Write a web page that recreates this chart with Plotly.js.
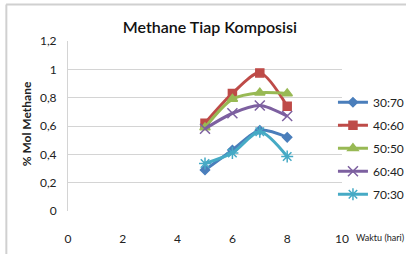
<!DOCTYPE html>
<html><head><meta charset="utf-8">
<script src="https://cdn.plot.ly/plotly-3.0.1.min.js"></script>
<style>html,body{margin:0;padding:0;background:#fff}#c{width:406px;height:254px}</style>
</head><body><div id="c"></div>
<script>
const days = [5, 6, 7, 8];
const seriesNames = ["30:70", "40:60", "50:50", "60:40", "70:30"];
const s3070 = [0.29, 0.43, 0.57, 0.52];
const s4060 = [0.62, 0.83, 0.975, 0.74];
const s5050 = [0.59, 0.79, 0.835, 0.83];
const s6040 = [0.58, 0.69, 0.745, 0.67];
const s7030 = [0.335, 0.41, 0.56, 0.385];
const xTicks = [0, 2, 4, 6, 8, 10];
const yTicks = [0, 0.2, 0.4, 0.6, 0.8, 1.0, 1.2];
const yTickText = ["0", "0,2", "0,4", "0,6", "0,8", "1", "1,2"];

const values = [s3070, s4060, s5050, s6040, s7030];
const colors = ["#4A7EBB", "#BE4B48", "#98B954", "#7D60A0", "#46AAC5"];
const symbols = ["diamond", "square", "triangle-up", "x-thin-open", "asterisk-open"];
const sizes = [7, 8, 9, 10, 10];

const traces = values.map((v, i) => ({
  x: days, y: v, name: seriesNames[i], type: "scatter", mode: "lines+markers",
  line: {color: colors[i], width: 3, shape: "spline", smoothing: 0.8},
  marker: {symbol: symbols[i], size: sizes[i], color: colors[i], line: {color: colors[i], width: 1.5}},
  legendgroup: "g" + i
}));

const font = "Lato, 'Open Sans', sans-serif";
const layout = {
  width: 406, height: 254,
  margin: {l: 68, r: 64, t: 41, b: 43, autoexpand: false},
  paper_bgcolor: "#fff", plot_bgcolor: "#fff",
  font: {family: font, size: 12, color: "#222"},
  title: {text: "Methane Tiap Komposisi", x: 0.517, xanchor: "center", y: 0.894, yanchor: "middle",
          font: {family: font, size: 16, color: "#111", weight: 600}},
  xaxis: {range: [0, 10], tickvals: xTicks, showgrid: false, zeroline: false, showline: false,
          ticks: "", ticklabelstandoff: 19, tickfont: {size: 12, color: "#222"}, fixedrange: true},
  yaxis: {range: [0, 1.2], tickvals: yTicks, ticktext: yTickText, showgrid: true, gridcolor: "#D4D4D4",
          gridwidth: 1, zeroline: false, showline: true, linecolor: "#D4D4D4", linewidth: 1,
          ticks: "", ticklabelstandoff: 8, tickfont: {size: 12, color: "#222"}},
  legend: {x: 0.967, xanchor: "left", y: 0.725, yanchor: "top", font: {size: 12, color: "#222"},
           tracegroupgap: 4, itemwidth: 30, bgcolor: "rgba(0,0,0,0)"},
  annotations: [
    {text: "<b>% Mol Methane</b>", xref: "paper", yref: "paper", x: -0.15, y: 0.515, textangle: -90,
     showarrow: false, xanchor: "center", yanchor: "middle", font: {size: 12, color: "#222"}},
    {text: "Waktu (hari)", xref: "paper", yref: "paper", x: 1.042, y: -0.158, showarrow: false,
     xanchor: "left", yanchor: "middle", font: {size: 9, color: "#222"}}
  ],
  shapes: [
    {type: "line", xref: "paper", yref: "paper", x0: -0.226, x1: 1.25, y0: 1.215, y1: 1.215,
     line: {color: "#D0D0D0", width: 2}},
    {type: "line", xref: "paper", yref: "paper", x0: -0.225, x1: -0.225, y0: 1.215, y1: -0.3,
     line: {color: "#D0D0D0", width: 2}}
  ]
};
Plotly.newPlot("c", traces, layout, {displayModeBar: false, staticPlot: true});
</script></body></html>
